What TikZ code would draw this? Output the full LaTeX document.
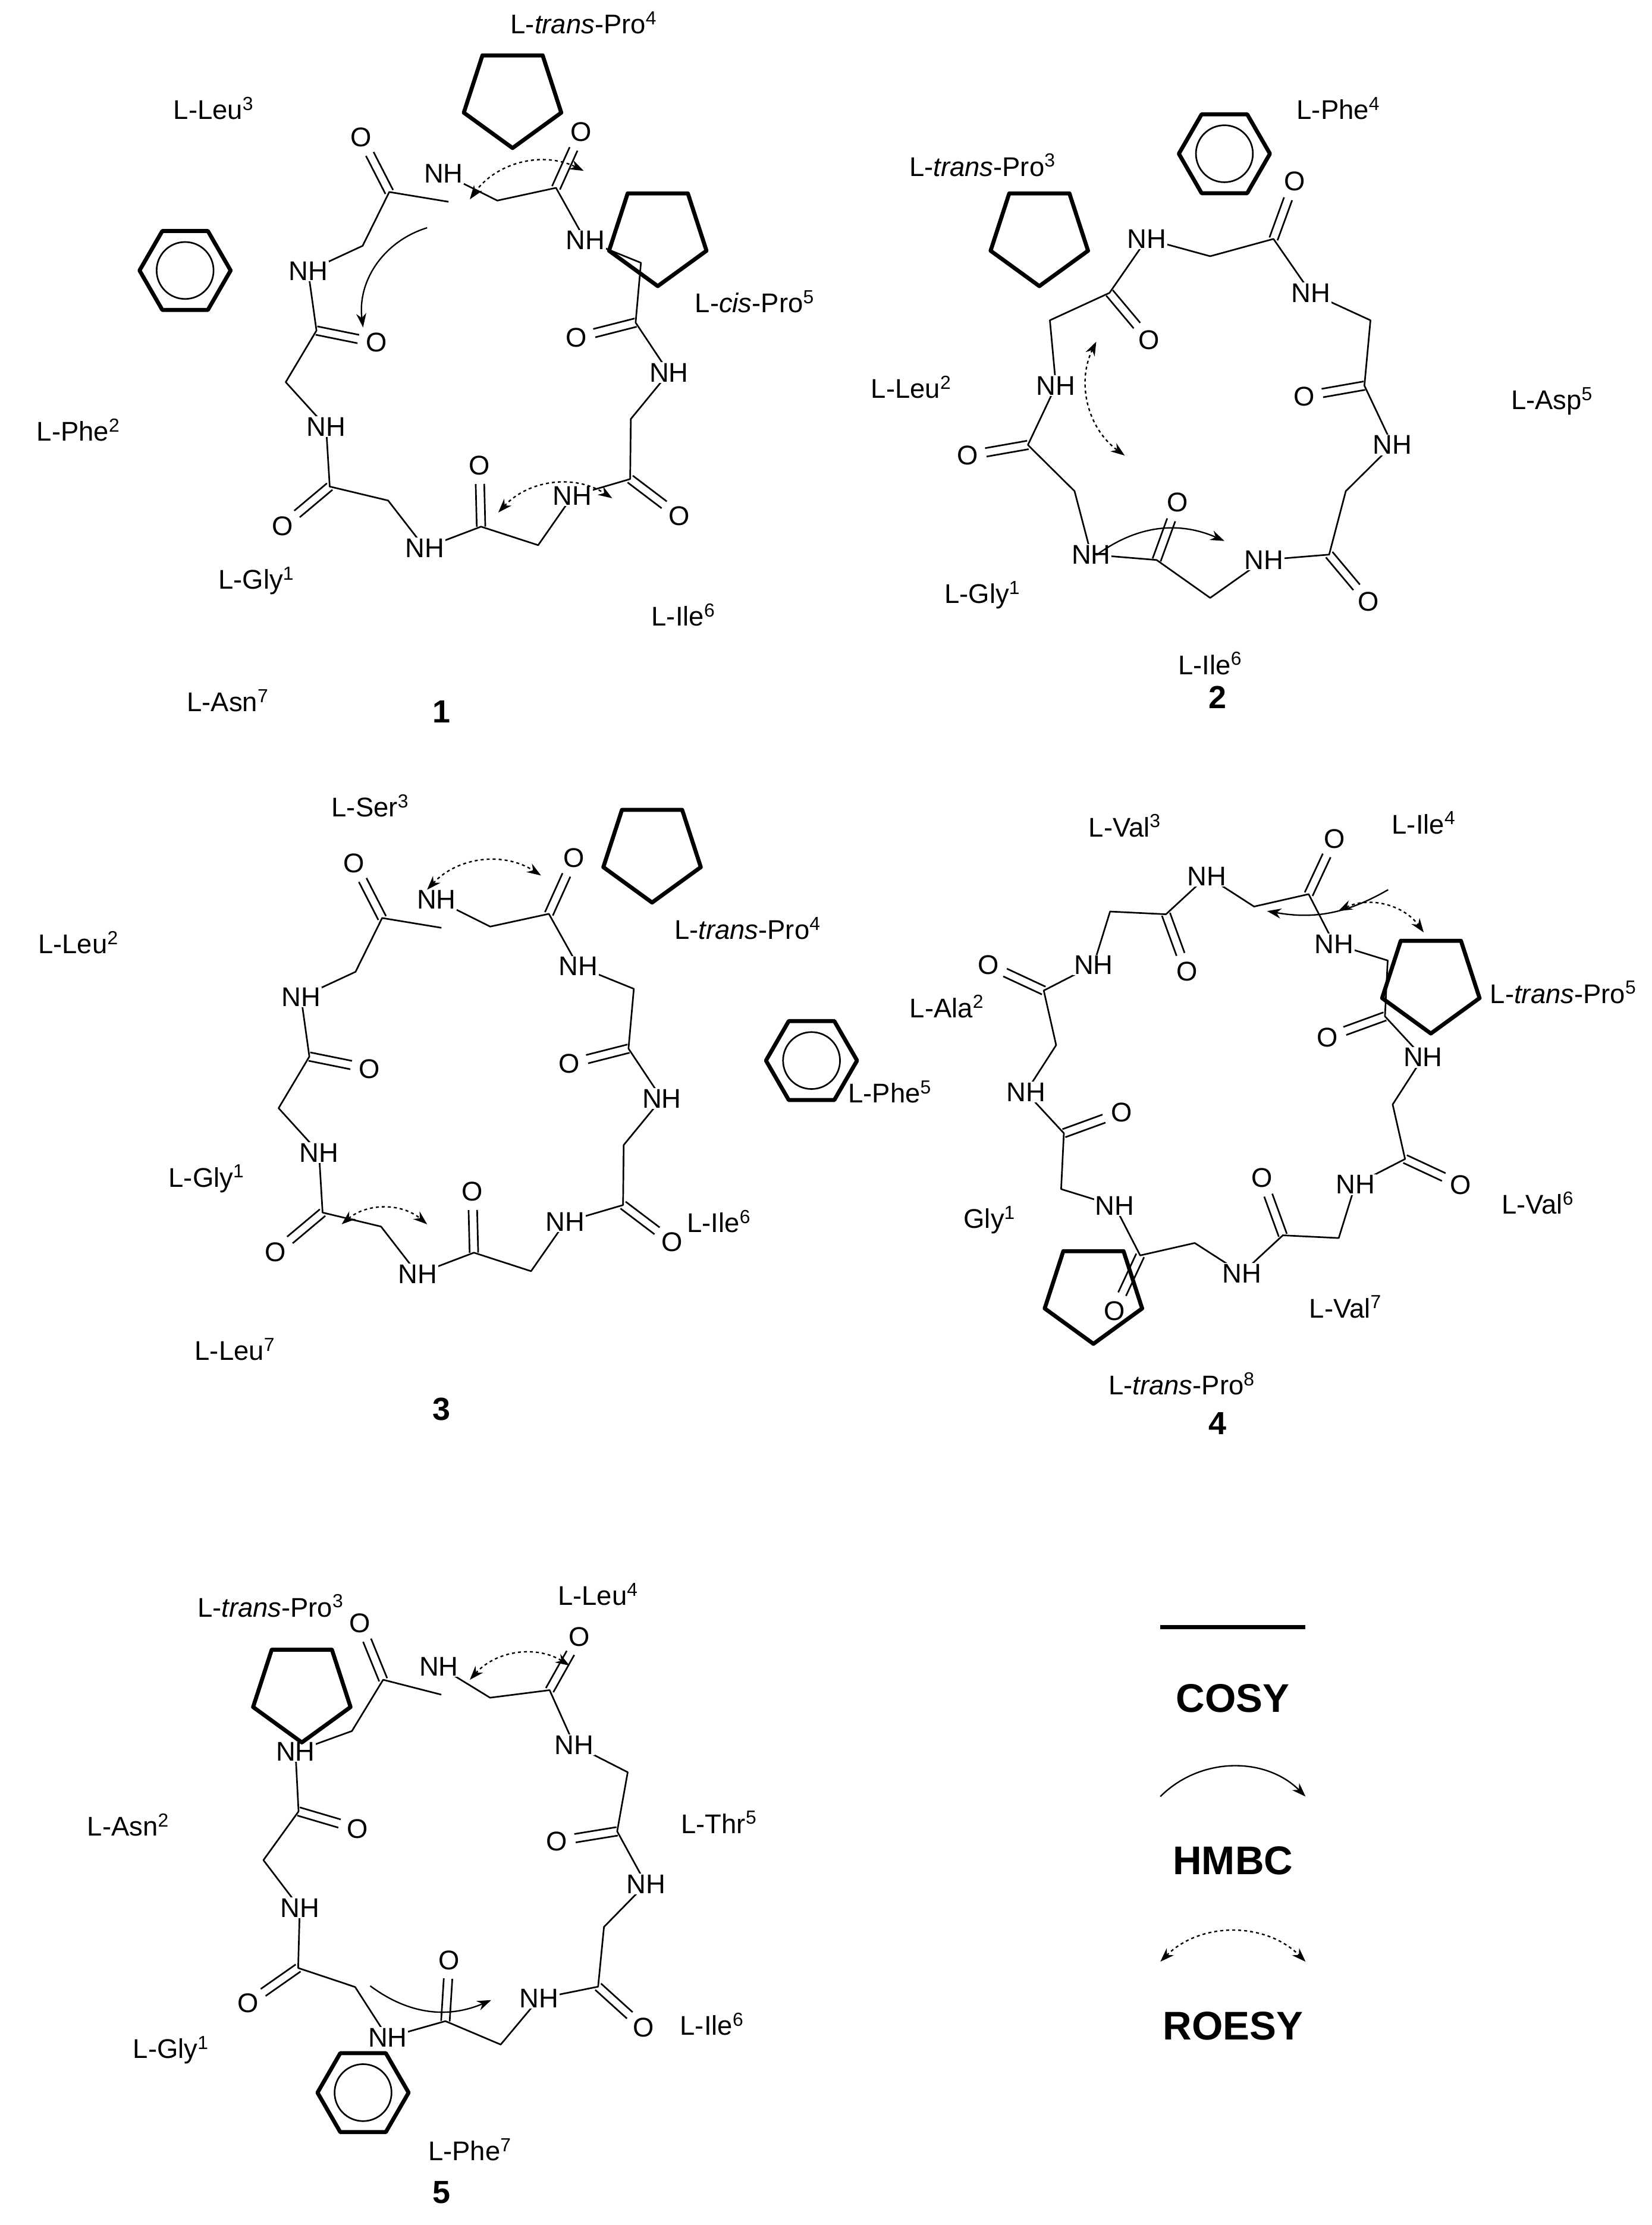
\documentclass[tikz,border=0pt]{standalone}
\usepackage{fontspec}
\setmainfont{Liberation Sans}
\usetikzlibrary{arrows.meta}
\tikzset{
  bond/.style={line width=1.6pt,line join=round},
  cosy/.style={line width=4pt},
  lab/.style={font=\fontsize{27}{32}\selectfont,inner sep=1pt},
  num/.style={font=\fontsize{32}{36}\selectfont\bfseries},
  leg/.style={font=\fontsize{40}{44}\selectfont\bfseries},
  hmbc/.style={line width=1.4pt,-{Stealth[length=14pt,width=10pt]}},
  roesy/.style={line width=1.4pt,dashed,{Stealth[length=14pt,width=10pt]}-{Stealth[length=14pt,width=10pt]}}
}
\newcommand\spx[1]{\textsuperscript{#1}}
\newcommand\mring[5]{%
 \draw[bond] plot[samples at={0,...,#4}] ({#1+(#3+10*(1-2*mod(\x,2)))*cos(#5+360*\x/#4)},{#2+(#3+10*(1-2*mod(\x,2)))*sin(#5+360*\x/#4)});
 \pgfmathtruncatemacro\nres{#4/3-1}
 \foreach \k in {0,...,\nres}{
   \pgfmathsetmacro\aN{#5+360*(3*\k)/#4}
   \pgfmathsetmacro\rN{#3+10*(1-2*mod(3*\k,2))}
   \node[lab,fill=white] at ({#1+\rN*cos(\aN)},{#2+\rN*sin(\aN)}) {NH};
   \pgfmathsetmacro\aC{#5+360*(3*\k+2)/#4}
   \pgfmathsetmacro\rC{#3+10*(1-2*mod(3*\k+2,2))}
   \pgfmathsetmacro\rE{\rC+30*(1-2*mod(\k,2))}
   \pgfmathsetmacro\rL{\rC+43*(1-2*mod(\k,2))}
   \draw[bond] ({#1+\rC*cos(\aC)+3*sin(\aC)},{#2+\rC*sin(\aC)-3*cos(\aC)}) -- ({#1+\rE*cos(\aC)+3*sin(\aC)},{#2+\rE*sin(\aC)-3*cos(\aC)});
   \draw[bond] ({#1+\rC*cos(\aC)-3*sin(\aC)},{#2+\rC*sin(\aC)+3*cos(\aC)}) -- ({#1+\rE*cos(\aC)-3*sin(\aC)},{#2+\rE*sin(\aC)+3*cos(\aC)});
   \node[lab] at ({#1+\rL*cos(\aC)},{#2+\rL*sin(\aC)}) {O};
 }}
\newcommand\phen[2]{\draw[cosy,line join=round] (#1,#2) ++(0:32) -- ++(120:32) -- ++(180:32) -- ++(240:32) -- ++(300:32) -- ++(0:32) -- cycle;
 \draw[bond] (#1,#2) circle (20);}
\newcommand\pent[2]{\draw[cosy,line join=round] (#1,#2) ++(90:36) -- ++(-36:42.3) -- ++(-108:42.3) -- ++(180:42.3) -- ++(108:42.3) -- cycle;}
\begin{document}
\begin{tikzpicture}[x=0.05cm,y=-0.05cm]
\useasboundingbox (0,0) rectangle (1160,1563);
% compound 1
\mring{335}{255}{125}{21}{-100}
\phen{130}{190}\pent{360}{68}\pent{462}{165}
\draw[roesy] (330,140) to[bend left=40] (410,120);
\draw[hmbc] (300,160) to[bend right=40] (255,230);
\draw[roesy] (350,360) to[bend left=40] (430,350);
\node[lab] (t1a) at (410,16) {L-\textit{trans}-Pro\spx{4}};
\node[lab] (t1b) at (150,76) {L-Leu\spx{3}};
\node[lab] (t1c) at (530,212) {L-\textit{cis}-Pro\spx{5}};
\node[lab] (t1d) at (55,302) {L-Phe\spx{2}};
\node[lab] (t1e) at (180,408) {L-Gly\spx{1}};
\node[lab] (t1f) at (480,432) {L-Ile\spx{6}};
\node[lab] (t1g) at (160,492) {L-Asn\spx{7}};
\node[num] (n1) at (310,500) {1};
% compound 2
\mring{850}{290}{120}{18}{-110}
\phen{860}{108}\pent{730}{165}
\draw[roesy] (770,240) to[bend right=40] (790,320);
\draw[hmbc] (770,390) to[bend left=30] (860,380);
\node[lab] at (940,76) {L-Phe\spx{4}};
\node[lab] at (690,116) {L-\textit{trans}-Pro\spx{3}};
\node[lab] at (640,272) {L-Leu\spx{2}};
\node[lab] at (1090,282) {L-Asp\spx{5}};
\node[lab] at (690,418) {L-Gly\spx{1}};
\node[lab] at (850,466) {L-Ile\spx{6}};
\node[num] at (855,490) {2};
% compound 3
\mring{330}{765}{125}{21}{-100}
\phen{570}{745}\pent{458}{598}
\draw[roesy] (300,625) to[bend left=40] (380,615);
\draw[roesy] (240,860) to[bend left=40] (300,860);
\node[lab] at (260,566) {L-Ser\spx{3}};
\node[lab] at (525,652) {L-\textit{trans}-Pro\spx{4}};
\node[lab] at (55,662) {L-Leu\spx{2}};
\node[lab] at (625,767) {L-Phe\spx{5}};
\node[lab] at (145,828) {L-Gly\spx{1}};
\node[lab] at (505,858) {L-Ile\spx{6}};
\node[lab] at (165,948) {L-Leu\spx{7}};
\node[num] at (310,990) {3};
% compound 4
\mring{860}{755}{130}{24}{-95}
\pent{1005}{690}\pent{768}{908}
\draw[roesy] (940,640) to[bend left=40] (1000,655);
\draw[hmbc] (975,625) to[bend left=20] (890,640);
\node[lab] at (790,580) {L-Val\spx{3}};
\node[lab] at (1000,578) {L-Ile\spx{4}};
\node[lab] at (1098,697) {L-\textit{trans}-Pro\spx{5}};
\node[lab] at (665,707) {L-Ala\spx{2}};
\node[lab] at (1080,845) {L-Val\spx{6}};
\node[lab] at (695,857) {Gly\spx{1}};
\node[lab] at (945,918) {L-Val\spx{7}};
\node[lab] at (830,972) {L-\textit{trans}-Pro\spx{8}};
\node[num] at (855,1000) {4};
% compound 5
\mring{320}{1305}{125}{21}{-95}
\phen{255}{1470}\pent{212}{1188}
\draw[roesy] (330,1180) to[bend left=40] (400,1170);
\draw[hmbc] (260,1395) to[bend right=30] (345,1405);
\node[lab] at (420,1120) {L-Leu\spx{4}};
\node[lab] at (190,1128) {L-\textit{trans}-Pro\spx{3}};
\node[lab] at (90,1282) {L-Asn\spx{2}};
\node[lab] at (505,1280) {L-Thr\spx{5}};
\node[lab] at (120,1440) {L-Gly\spx{1}};
\node[lab] at (500,1422) {L-Ile\spx{6}};
\node[lab] at (330,1510) {L-Phe\spx{7}};
\node[num] at (310,1540) {5};
% legend
\coordinate (c1) at (815,1143); \coordinate (c2) at (917,1143);
\draw[cosy] (c1) -- (c2);
\node[leg] at (866,1193) {COSY};
\coordinate (h1) at (815,1262); \coordinate (h2) at (917,1262);
\draw[hmbc] (h1) to[bend left=45] (h2);
\node[leg] at (866,1307) {HMBC};
\coordinate (r1) at (815,1378); \coordinate (r2) at (917,1378);
\draw[roesy] (r1) to[bend left=45] (r2);
\node[leg] at (866,1423) {ROESY};
\end{tikzpicture}
\end{document}
